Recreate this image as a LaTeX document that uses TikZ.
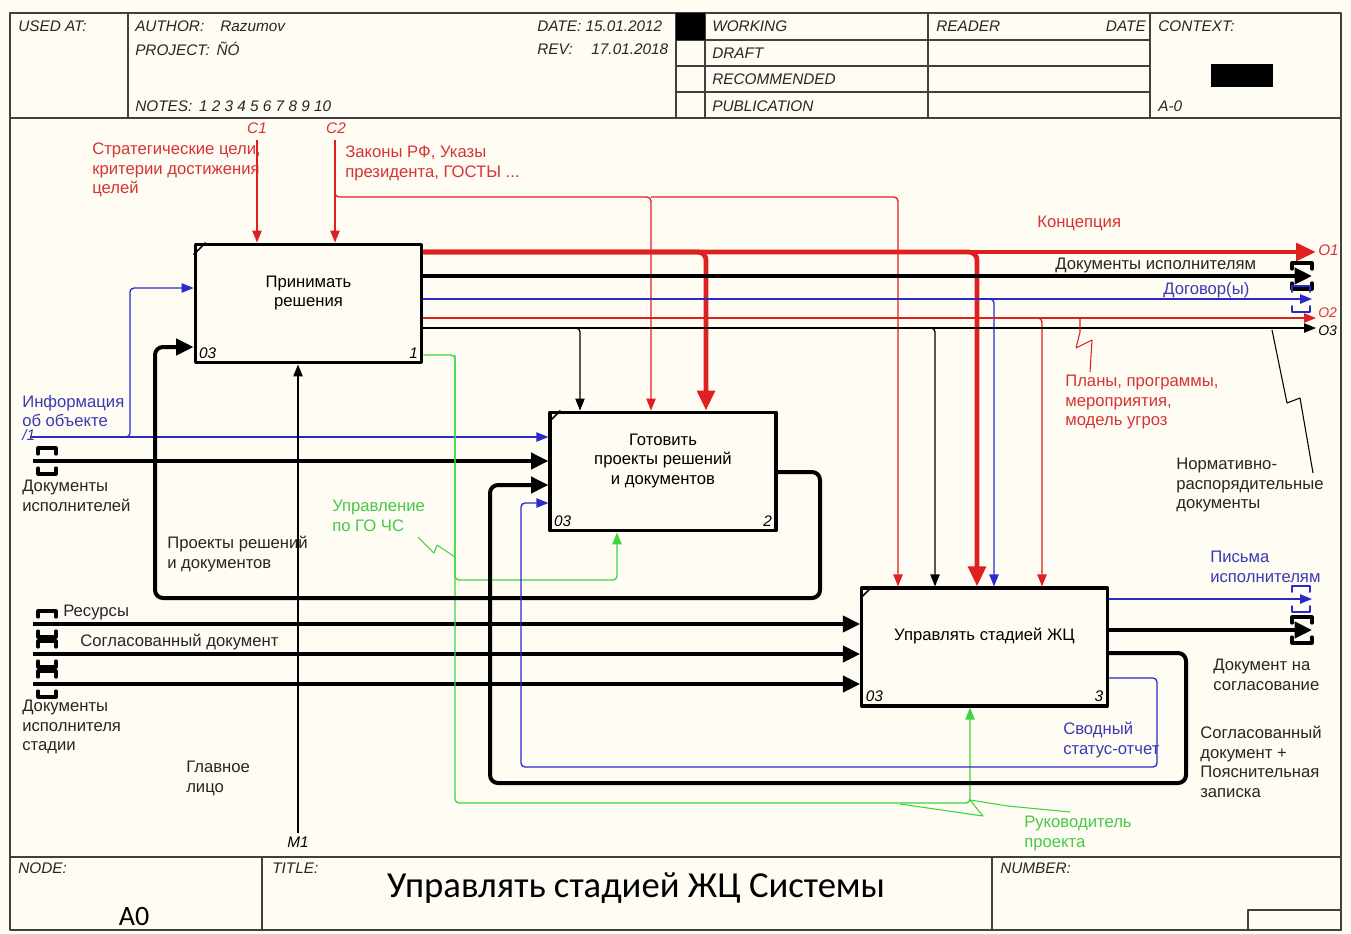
\documentclass[tikz,border=0pt]{standalone}
\usepackage{fontspec}
\setmainfont{Liberation Sans}
\newfontfamily\titlefont{Carlito}
\usetikzlibrary{arrows.meta}
\definecolor{paper}{RGB}{255,252,243}
\definecolor{idefred}{RGB}{222,32,32}
\definecolor{idefblue}{RGB}{42,42,200}
\definecolor{idefgreen}{RGB}{62,212,62}
\definecolor{redtext}{RGB}{214,52,52}
\definecolor{bluetext}{RGB}{58,58,178}
\definecolor{greentext}{RGB}{72,200,72}
\newcommand*{\lblfont}{\fontsize{12.5}{14.6}\selectfont}
\newcommand*{\hdrfont}{\fontsize{11.5}{14}\selectfont\itshape}
\newcommand*{\tunnel}[3]{%
    \draw [#2] (#1) ++(-#3, -7) -- ++(0, -6) -- ++(2*#3, 0) -- ++(0, 6);
    \draw [#2] (#1) ++(-#3, 7) -- ++(0, 6) -- ++(2*#3, 0) -- ++(0, -6);
}
\tikzstyle{activity} = [
    draw,
    line width=2.4pt,
    rectangle,
    inner sep=0pt,
    append after command={%
        ([yshift=-9pt]\tikzlastnode.north west) edge [draw, line width=1.2pt] ([xshift=9pt]\tikzlastnode.north west)%
    }
]
\tikzstyle{box text} = [align=center, font=\lblfont, yshift=8pt]
\tikzstyle{corner no} = [anchor=south west, font=\hdrfont, inner sep=4pt]
\tikzstyle{heading} = [anchor=west, inner sep=0pt, font=\hdrfont, text=black!85]
\tikzstyle{io label} = [inner sep=0pt, font=\hdrfont]
\tikzstyle{tag} = [anchor=north west, align=left, inner sep=0pt, font=\lblfont, text=black!85]
\tikzstyle{pipe} = [-{Triangle[length=9pt, width=7pt]}, line width=1pt, rounded corners=3pt]
\tikzstyle{heavy pipe} = [-{Triangle[length=13pt, width=12pt]}, line width=3pt, rounded corners=6pt]
\tikzstyle{tunnel bracket} = [line width=2.4pt, line cap=round]
\tikzstyle{leader} = [line width=0.8pt]
\tikzstyle{sheet} = [line width=1.2pt, draw=black!75]

\begin{document}
\begin{tikzpicture}[x=0.75pt, y=-0.75pt, line join=round]
    \path [use as bounding box, fill=paper] (0, 0) rectangle (1351, 933);

    % Sheet.
    \draw [sheet] (10, 13) rectangle (1341, 930);
    \draw [sheet] (10, 118) -- (1341, 118);
    \draw [sheet] (128, 13) -- (128, 118);
    \draw [sheet] (676, 13) -- (676, 118);
    \draw [sheet] (705, 13) -- (705, 118);
    \draw [sheet] (928, 13) -- (928, 118);
    \draw [sheet] (1150, 13) -- (1150, 118);
    \draw [sheet] (676, 40) -- (1150, 40);
    \draw [sheet] (676, 66) -- (1150, 66);
    \draw [sheet] (676, 92) -- (1150, 92);
    \fill (676, 13) rectangle (705, 40);
    \fill (1211, 64) rectangle (1273, 87);
    \draw [sheet] (10, 857) -- (1341, 857);
    \draw [sheet] (262, 857) -- (262, 930);
    \draw [sheet] (992, 857) -- (992, 930);
    \draw [sheet] (1248, 910) rectangle (1341, 930);

    % Header.
    \node (used at) [heading] at (18, 26) {USED AT:};
    \node (author) [heading] at (135, 26) {AUTHOR:\hspace{12pt}Razumov};
    \node (project) [heading] at (135, 49) {PROJECT:\hspace{5pt}ÑÓ};
    \node (notes) [heading] at (135, 106) {NOTES:\hspace{5pt}1 2 3 4 5 6 7 8 9 10};
    \node (date) [heading] at (537, 26) {DATE: 15.01.2012};
    \node (rev) [heading] at (537, 49) {REV:\hspace{14pt}17.01.2018};
    \node (working) [heading] at (712, 26) {WORKING};
    \node (draft) [heading] at (712, 53) {DRAFT};
    \node (recommended) [heading] at (712, 79) {RECOMMENDED};
    \node (publication) [heading] at (712, 106) {PUBLICATION};
    \node (reader) [heading] at (936, 26) {READER};
    \node (reader date) [heading, anchor=east] at (1146, 26) {DATE};
    \node (context) [heading] at (1158, 26) {CONTEXT:};
    \node (context node) [heading] at (1158, 106) {A-0};

    % Footer.
    \node (node label) [heading] at (18, 868) {NODE:};
    \node (title label) [heading] at (272, 868) {TITLE:};
    \node (number label) [heading] at (1000, 868) {NUMBER:};
    \node (node number) [font=\titlefont\fontsize{21}{24}\selectfont] at (134, 916) {A0};
    \node (title) [font=\titlefont\fontsize{27.5}{32}\selectfont] at (636, 888) {Управлять стадией ЖЦ Системы};

    % Activities.
    \node (box1) [activity, minimum width=170pt, minimum height=89pt,
        label={[box text]center:Принимать\\решения},
        label={[corner no]south west:03},
        label={[corner no, anchor=south east]south east:1}] at (308.5, 303.5) {};
    \node (box2) [activity, minimum width=169.5pt, minimum height=89pt,
        label={[box text]center:Готовить\\проекты решений\\и документов},
        label={[corner no]south west:03},
        label={[corner no, anchor=south east]south east:2}] at (663, 471.5) {};
    \node (box3) [activity, minimum width=184pt, minimum height=88.5pt,
        label={[box text]center:Управлять стадией ЖЦ},
        label={[corner no]south west:03},
        label={[corner no, anchor=south east]south east:3}] at (984.5, 647) {};

    % Ends and bends.
    \coordinate (c1) at (257, 140);
    \coordinate (c2) at (335, 140);
    \coordinate (laws) at (651, 197);
    \coordinate (laws end) at (898, 197);
    \coordinate (m1) at (298, 833);
    \coordinate (o1) at (1316, 252);
    \coordinate (o2) at (1316, 318);
    \coordinate (o3) at (1316, 328);
    \coordinate (docs out) at (1312, 276);
    \coordinate (contracts out) at (1312, 299);
    \coordinate (concept a) at (706, 252);
    \coordinate (concept b) at (977, 252);
    \coordinate (contracts a) at (994, 299);
    \coordinate (plans a) at (1042, 318);
    \coordinate (rules a) at (580, 328);
    \coordinate (rules b) at (935, 328);
    \coordinate (info in) at (30, 437);
    \coordinate (info up) at (130, 288);
    \coordinate (docs in) at (33, 461);
    \coordinate (res in) at (33, 624);
    \coordinate (agreed in) at (33, 654);
    \coordinate (stage in) at (33, 684);
    \coordinate (gochs a) at (455, 355);
    \coordinate (gochs b) at (455, 803);
    \coordinate (gochs c) at (617, 580);
    \coordinate (manager a) at (970, 803);
    \coordinate (proj a) at (820, 472);
    \coordinate (proj b) at (820, 598);
    \coordinate (proj c) at (155, 598);
    \coordinate (proj d) at (155, 347);
    \coordinate (letters out) at (1312, 599);
    \coordinate (approval out) at (1312, 630);
    \coordinate (agreed a) at (1186, 653);
    \coordinate (agreed b) at (1186, 783);
    \coordinate (agreed c) at (490, 783);
    \coordinate (agreed d) at (490, 485);
    \coordinate (status a) at (1157, 678);
    \coordinate (status b) at (1157, 767);
    \coordinate (status c) at (521, 767);
    \coordinate (status d) at (521, 503);

    % Controls.
    \draw [pipe, idefred] (c1) -- (c1 |- box1.north);
    \draw [pipe, idefred] (c2) -- (c2 |- box1.north);
    \draw [pipe, idefred] (c2) |- (laws) -- (laws |- box2.north);
    \draw [pipe, idefred] (laws) -- (laws end) -- (laws end |- box3.north);

    % Outputs of box 1.
    \draw [heavy pipe, idefred, line width=3.6pt, -{Triangle[length=15pt, width=13pt]}] (box1.east |- o1) -- (o1);
    \draw [heavy pipe, idefred, line width=3.6pt, -{Triangle[length=15pt, width=13pt]}] (box1.east |- concept a) -| (concept a |- box2.north);
    \draw [heavy pipe, idefred, line width=3.6pt, -{Triangle[length=15pt, width=13pt]}] (box1.east |- concept b) -| (concept b |- box3.north);
    \draw [heavy pipe] (box1.east |- docs out) -- (docs out);
    \draw [pipe, idefblue] (box1.east |- contracts out) -- (contracts out);
    \draw [pipe, idefblue] (box1.east |- contracts a) -| (contracts a |- box3.north);
    \draw [pipe, idefred] (box1.east |- o2) -- (o2);
    \draw [pipe, idefred] (box1.east |- plans a) -| (plans a |- box3.north);
    \draw [pipe] (box1.east |- o3) -- (o3);
    \draw [pipe] (box1.east |- rules a) -| (rules a |- box2.north);
    \draw [pipe] (box1.east |- rules b) -| (rules b |- box3.north);

    % Inputs.
    \draw [pipe, idefblue] (info in) -- (info in -| box2.west);
    \draw [pipe, idefblue] (info in) -| (info up) -- (info up -| box1.west);
    \draw [heavy pipe] (docs in) -- (docs in -| box2.west);
    \draw [heavy pipe] (res in) -- (res in -| box3.west);
    \draw [heavy pipe] (agreed in) -- (agreed in -| box3.west);
    \draw [heavy pipe] (stage in) -- (stage in -| box3.west);
    \draw [pipe] (m1) -- (m1 |- box1.south);

    % Green mechanism.
    \draw [pipe, idefgreen] (box1.east |- gochs a) -- (gochs a) -- (gochs b) -- (manager a) -- (manager a |- box3.south);
    \draw [pipe, idefgreen] (gochs a) |- (gochs c) -- (gochs c |- box2.south);

    % Feedback.
    \draw [heavy pipe] (box2.east |- proj a) -- (proj a) -- (proj b) -- (proj c) -- (proj d) -- (box1.west |- proj d);
    \draw [heavy pipe] (box3.east |- agreed a) -- (agreed a) -- (agreed b) -- (agreed c) -- (agreed d) -- (box2.west |- agreed d);
    \draw [pipe, idefblue] (box3.east |- status a) -- (status a) -- (status b) -- (status c) -- (status d) -- (box2.west |- status d);

    % Outputs of box 3.
    \draw [pipe, idefblue] (box3.east |- letters out) -- (letters out);
    \draw [heavy pipe] (box3.east |- approval out) -- (approval out);

    % Tunnels.
    \tunnel{47, 461}{tunnel bracket}{9}
    \tunnel{47, 624}{tunnel bracket}{9}
    \tunnel{47, 654}{tunnel bracket}{9}
    \tunnel{47, 684}{tunnel bracket}{9}
    \tunnel{1302, 276}{tunnel bracket}{10}
    \tunnel{1301, 299}{tunnel bracket, idefblue, line width=1.4pt}{9}
    \tunnel{1301, 599}{tunnel bracket, idefblue, line width=1.4pt}{9}
    \tunnel{1302, 630}{tunnel bracket}{10}

    % Leaders.
    \draw [leader, idefred] (1080, 318) -- (1080, 332) -- (1076, 348) -- (1092, 340) -- (1090, 372);
    \draw [leader] (1272, 330) -- (1287, 403) -- (1300, 398) -- (1313, 473);
    \draw [leader, idefgreen] (418, 537) -- (434, 553) -- (437, 545) -- (455, 557);
    \draw [leader, idefgreen] (900, 804) -- (983, 816) -- (970, 800) -- (1008, 806) -- (1070, 812);

    % Arrow codes.
    \node (c1 label) [io label, text=redtext] at (257, 128) {C1};
    \node (c2 label) [io label, text=redtext] at (336, 128) {C2};
    \node (m1 label) [io label] at (298, 842) {M1};
    \node (o1 label) [io label, anchor=west, text=redtext] at (1318, 250) {O1};
    \node (o2 label) [io label, anchor=west, text=redtext, font=\fontsize{10.5}{12}\selectfont\itshape] at (1318, 313) {O2};
    \node (o3 label) [io label, anchor=west, font=\fontsize{10.5}{12}\selectfont\itshape] at (1318, 331) {O3};
    \node (i1 label) [io label, anchor=west, text=bluetext] at (22, 435) {/1};

    % Labels.
    \node (strategy) [tag, text=redtext] at (92, 143) {Стратегические цели,\\критерии достижения\\целей};
    \node (laws text) [tag, text=redtext] at (345, 146) {Законы РФ, Указы\\президента, ГОСТЫ ...};
    \node (concept) [tag, text=redtext] at (1037, 216) {Концепция};
    \node (docs out text) [tag] at (1055, 258) {Документы исполнителям};
    \node (contracts) [tag, text=bluetext] at (1163, 282) {Договор(ы)};
    \node (plans) [tag, text=redtext] at (1065, 375) {Планы, программы,\\мероприятия,\\модель угроз};
    \node (rules) [tag] at (1176, 458) {Нормативно-\\распорядительные\\документы};
    \node (info) [tag, text=bluetext] at (22, 395) {Информация\\об объекте};
    \node (docs in text) [tag] at (22, 480) {Документы\\исполнителей};
    \node (gochs) [tag, text=greentext] at (332, 500) {Управление\\по ГО ЧС};
    \node (projects) [tag] at (167, 536) {Проекты решений\\и документов};
    \node (resources) [tag] at (63, 605) {Ресурсы};
    \node (agreed) [tag] at (80, 634) {Согласованный документ};
    \node (stage docs) [tag] at (22, 700) {Документы\\исполнителя\\стадии};
    \node (chief) [tag] at (186, 761) {Главное\\лицо};
    \node (letters) [tag, text=bluetext] at (1210, 551) {Письма\\исполнителям};
    \node (approval) [tag] at (1213, 659) {Документ на\\согласование};
    \node (status) [tag, text=bluetext] at (1063, 722) {Сводный\\статус-отчет};
    \node (agreed note) [tag] at (1200, 726) {Согласованный\\документ +\\Пояснительная\\записка};
    \node (manager) [tag, text=greentext] at (1024, 816) {Руководитель\\проекта};
\end{tikzpicture}
\end{document}
